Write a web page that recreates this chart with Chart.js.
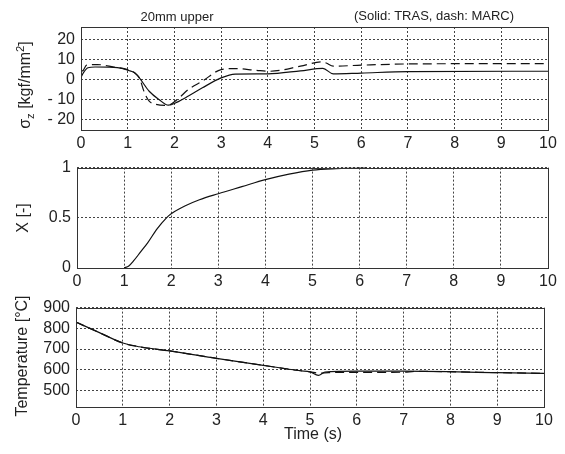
<!DOCTYPE html>
<html>
<head>
<meta charset="utf-8">
<title>20mm upper</title>
<script src="https://cdn.jsdelivr.net/npm/chart.js"></script>
<style>
  body { margin: 0; background: #fff; font-family: "Liberation Sans", Arial, sans-serif; }
  #wrap { position: relative; width: 565px; height: 454px; overflow: hidden; }
  canvas { position: absolute; left: 0; }
  .lbl { position: absolute; white-space: nowrap; color: #222; line-height: 1; transform: translate(-50%, -50%); }
  .rot { transform: translate(-50%, -50%) rotate(-90deg); }
  sub, sup { font-size: 70%; line-height: 0; }
</style>
</head>
<body>
<div id="wrap">
  <canvas id="stressChart" width="565" height="152" style="top:0px"></canvas>
  <canvas id="fracChart" width="565" height="140" style="top:152px"></canvas>
  <canvas id="tempChart" width="565" height="140" style="top:292px"></canvas>

  <div class="lbl" style="left:177px; top:16px; font-size:13px">20mm upper</div>
  <div class="lbl" style="left:434px; top:15px; font-size:13px">(Solid: TRAS, dash: MARC)</div>
  <div class="lbl rot" style="left:25px; top:85px; font-size:16px">σ<sub>z</sub> [kgf/mm<sup>2</sup>]</div>
  <div class="lbl rot" style="left:23px; top:218px; font-size:16px">X [-]</div>
  <div class="lbl rot" style="left:22px; top:356px; font-size:16px">Temperature [°C]</div>
  <div class="lbl" style="left:313px; top:434px; font-size:16px">Time (s)</div>
</div>

<script>
  // time axis
  const timeTicks = [0, 1, 2, 3, 4, 5, 6, 7, 8, 9, 10];

  // stress, sigma_z [kgf/mm2]
  const stressTicks = [-20, -10, 0, 10, 20];
  const stressTrasT = [0, 0.05, 0.15, 0.3, 0.6, 0.9, 1.0, 1.15, 1.25, 1.46, 1.67, 1.87, 2.06, 2.3, 2.6, 3.0, 3.3, 4.0, 4.7, 5.18, 5.4, 6.0, 7.0, 10];
  const stressTrasV = [1, 3.3, 5.8, 6.2, 6.1, 5.4, 4.6, 3.3, 0.8, -5.8, -9.9, -12.7, -11.2, -8.2, -4.1, 0.8, 2.7, 2.8, 4.3, 5.5, 2.8, 3.2, 3.9, 4.1];
  const stressMarcT = [0, 0.05, 0.12, 0.35, 0.7, 1.0, 1.15, 1.25, 1.36, 1.46, 1.6, 1.85, 2.06, 2.3, 2.6, 3.0, 3.3, 3.74, 4.05, 4.7, 5.15, 5.25, 5.4, 6.0, 7.0, 10];
  const stressMarcV = [4, 4.6, 7.1, 7.4, 6.2, 4.9, 3.2, 0.8, -6.6, -10.7, -12.3, -12.8, -9.9, -4.9, -0.8, 4.9, 5.4, 4.6, 4.1, 6.6, 8.7, 8.2, 6.6, 7.1, 7.7, 7.9];

  // transformed fraction X [-]
  const fracTicks = [0, 0.5, 1];
  const fracT = [1.0, 1.1, 1.2, 1.35, 1.5, 1.7, 1.9, 2.0, 2.3, 2.6, 3.0, 3.5, 4.0, 4.5, 5.0, 5.5, 6.0, 6.15];
  const fracV = [0, 0.02, 0.07, 0.16, 0.25, 0.39, 0.5, 0.54, 0.62, 0.68, 0.74, 0.81, 0.88, 0.935, 0.975, 0.99, 0.997, 1.0];

  // temperature [C]
  const tempTicks = [500, 600, 700, 800, 900];
  const tempTrasT = [0, 0.5, 1.0, 1.35, 2.0, 3.0, 4.0, 4.8, 5.0, 5.18, 5.32, 6.0, 7.0, 9.0, 10];
  const tempTrasV = [830, 779, 729, 711, 691, 655, 621, 595, 590, 573, 589, 593, 593, 586, 582];
  const tempMarcT = [0, 0.5, 1.0, 1.35, 2.0, 3.0, 4.0, 4.8, 5.0, 5.2, 5.4, 6.0, 7.0, 7.25, 9.0, 10];
  const tempMarcV = [830, 779, 729, 711, 691, 655, 621, 595, 590, 583, 586, 587, 588, 592, 586, 582];

  const pts = (ts, vs) => ts.map((t, i) => ({ x: t, y: vs[i] }));

  // box around the plot area
  const frame = {
    id: 'frame',
    afterDraw(c) {
      const a = c.chartArea, ctx = c.ctx;
      ctx.save();
      ctx.strokeStyle = '#333';
      ctx.lineWidth = 1;
      ctx.setLineDash([]);
      ctx.strokeRect(Math.round(a.left) + 0.5, Math.round(a.top) + 0.5,
        Math.round(a.right - a.left), Math.round(a.bottom - a.top));
      ctx.restore();
    }
  };

  function line(data, dashed) {
    return {
      data: data,
      borderColor: '#111',
      borderWidth: 1.2,
      borderDash: dashed ? [9, 5] : [],
      pointRadius: 0,
      fill: false,
      cubicInterpolationMode: 'monotone'
    };
  }

  // g: canvas top, plot top/bottom/left/right in page pixels
  function makeChart(id, g, datasets, yMin, yMax, yTicks, yFmt) {
    const H = document.getElementById(id).height;
    return new Chart(document.getElementById(id), {
      type: 'line',
      data: { datasets: datasets },
      plugins: [frame],
      options: {
        responsive: false,
        animation: false,
        layout: { padding: { top: g.top - g.canvasTop, right: 565 - g.right, left: 0, bottom: 0 } },
        plugins: { legend: { display: false }, tooltip: { enabled: false } },
        scales: {
          x: {
            type: 'linear', min: 0, max: 10,
            afterBuildTicks: s => { s.ticks = timeTicks.map(v => ({ value: v })); },
            afterFit: s => { s.height = g.canvasTop + H - g.bottom; },
            ticks: { color: '#222', font: { family: 'Liberation Sans', size: 16 }, padding: 4, maxRotation: 0 },
            grid: { color: '#444', lineWidth: 1, drawTicks: false },
            border: { display: false, dash: [2, 2] }
          },
          y: {
            type: 'linear', min: yMin, max: yMax,
            afterBuildTicks: s => { s.ticks = yTicks.map(v => ({ value: v })); },
            afterFit: s => { s.width = g.left; },
            ticks: { color: '#222', font: { family: 'Liberation Sans', size: 16 }, padding: 6, callback: yFmt },
            grid: { color: '#444', lineWidth: 1, drawTicks: false },
            border: { display: false, dash: [2, 2] }
          }
        }
      }
    });
  }

  makeChart('stressChart', { canvasTop: 0, top: 27, bottom: 130, left: 81, right: 548 },
    [line(pts(stressTrasT, stressTrasV), false), line(pts(stressMarcT, stressMarcV), true)],
    -25, 26, stressTicks, v => v < 0 ? '- ' + (-v) : String(v));

  makeChart('fracChart', { canvasTop: 152, top: 167, bottom: 268, left: 77, right: 548 },
    [line(pts(fracT, fracV), false)],
    0, 1, fracTicks, v => String(v));

  makeChart('tempChart', { canvasTop: 292, top: 303, bottom: 407, left: 76, right: 544 },
    [line(pts(tempTrasT, tempTrasV), false), line(pts(tempMarcT, tempMarcV), true)],
    420, 900, tempTicks, v => String(v));
</script>
</body>
</html>
